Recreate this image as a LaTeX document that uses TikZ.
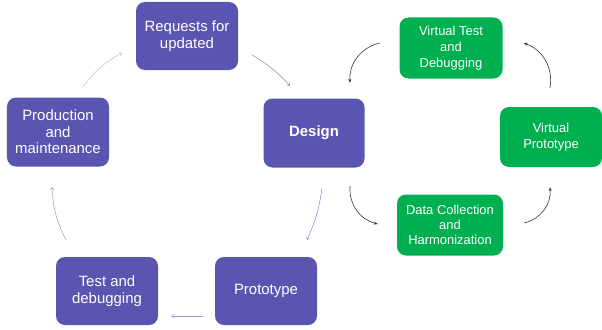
\documentclass[tikz,border=0pt]{standalone}
\usepackage{fontspec}
\setmainfont{Liberation Sans}
\usetikzlibrary{arrows.meta}
\definecolor{stagepurple}{HTML}{5A55B1}
\definecolor{stagegreen}{HTML}{00B050}
\begin{document}
\begin{tikzpicture}[x=1bp,y=1bp,
  stage/.style={draw=none,fill=stagepurple,text=white,rounded corners=9bp,align=center,
    minimum width=102bp,minimum height=68bp,inner sep=0pt,font=\fontsize{15}{16.5}\selectfont},
  vstage/.style={stage,fill=stagegreen,minimum height=61bp,font=\fontsize{13}{16}\selectfont},
  loopflow/.style={line width=0.5pt,-{To[length=3bp,width=4bp]}},
  vflow/.style={line width=0.6pt,draw=black!80,-{Stealth[length=4bp,width=3bp]}}]
\useasboundingbox (0,0) rectangle (602,329);
% physical loop
\node[stage] (req) at (187,293) {Requests for\\updated};
\node[stage,minimum height=69bp] (prod) at (58,197) {Production\\and\\maintenance};
\node[stage,minimum width=101bp,minimum height=69bp,font=\fontsize{15}{16.5}\selectfont\bfseries] (design) at (314,196) {Design};
\node[stage] (proto) at (266,38) {Prototype};
\node[stage] (test) at (107,38) {Test and\\debugging};
% virtual loop
\node[vstage,minimum width=103bp] (vtest) at (451,281) {Virtual Test\\and\\Debugging};
\node[vstage,minimum height=60bp] (vproto) at (551,192) {Virtual\\Prototype};
\node[vstage,minimum width=106bp,font=\fontsize{13}{15}\selectfont] (data) at (450,104) {Data Collection\\and\\Harmonization};
% arrows of the physical loop
\draw[loopflow,draw=black!25] ([xshift=25bp,yshift=10.5bp]prod.north) to[bend left=12] ([xshift=-14bp,yshift=-17bp]req.west);
\draw[loopflow,draw=black!45!stagepurple!60] ([xshift=14bp,yshift=-19bp]req.east) to[bend left=8] ([xshift=-24bp,yshift=12.5bp]design.north);
\draw[loopflow,draw=stagepurple!70] ([xshift=8bp,yshift=-20.5bp]design.south) to[bend left=8] ([xshift=41bp,yshift=17bp]proto.north);
\draw[loopflow,draw=stagepurple!55] ([xshift=-12bp,yshift=-25bp]proto.west) -- ([xshift=13bp,yshift=-25bp]test.east);
\draw[loopflow,draw=black!30!stagepurple!50] ([xshift=-41bp,yshift=17bp]test.north) to[bend left=12] ([xshift=-6bp,yshift=-20.5bp]prod.south);
% arrows of the virtual loop
\draw[vflow] ([xshift=36bp,yshift=-18.5bp]design.south) to[bend right=40] ([xshift=-19bp,yshift=1bp]data.west);
\draw[vflow] ([xshift=21bp,yshift=2bp]data.east) to[bend right=40] ([xshift=-1bp,yshift=-20bp]vproto.south);
\draw[vflow] ([xshift=-1bp,yshift=19bp]vproto.north) to[bend right=40] ([xshift=21bp,yshift=5bp]vtest.east);
\draw[vflow] ([xshift=-19.5bp,yshift=5bp]vtest.west) to[bend right=40] ([xshift=36bp,yshift=15.5bp]design.north);
\end{tikzpicture}
\end{document}
